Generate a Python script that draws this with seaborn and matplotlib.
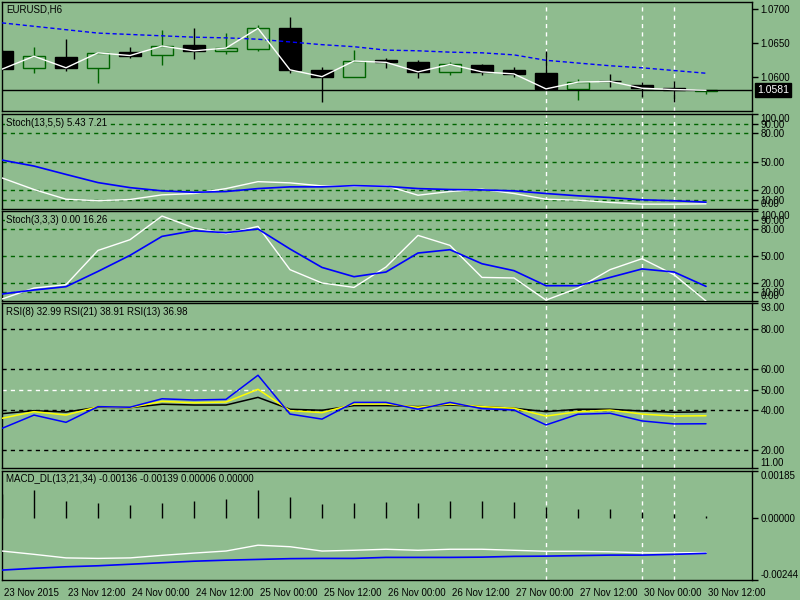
import matplotlib
matplotlib.use("Agg")
import matplotlib.pyplot as plt
import matplotlib.transforms as mtrans
import seaborn as sns

# EURUSD H6 bars, 23 Nov 2015 00:00 .. 30 Nov 12:00
bar_idx = list(range(23))
opens = [1.0639, 1.0614, 1.0630, 1.0613, 1.0637, 1.0633, 1.0648, 1.0639, 1.0641, 1.0673, 1.0611, 1.0600,
         1.0625, 1.0623, 1.0608, 1.0618, 1.0611, 1.0607, 1.0583, 1.0595, 1.0589, 1.0584, 1.0580]
highs = [1.0640, 1.0644, 1.0656, 1.0637, 1.0645, 1.0670, 1.0673, 1.0665, 1.0677, 1.0689, 1.0615, 1.0640,
         1.0629, 1.0625, 1.0623, 1.0620, 1.0615, 1.0638, 1.0598, 1.0605, 1.0593, 1.0595, 1.0582]
lows = [1.0611, 1.0607, 1.0609, 1.0592, 1.0629, 1.0618, 1.0627, 1.0634, 1.0639, 1.0606, 1.0564, 1.0600,
        1.0614, 1.0599, 1.0604, 1.0604, 1.0600, 1.0583, 1.0567, 1.0586, 1.0571, 1.0563, 1.0575]
closes = [1.0612, 1.0631, 1.0614, 1.0636, 1.0632, 1.0646, 1.0639, 1.0643, 1.0672, 1.0611, 1.0601, 1.0624,
          1.0622, 1.0608, 1.0619, 1.0608, 1.0605, 1.0583, 1.0593, 1.0594, 1.0584, 1.0582, 1.0581]
ma_slow = [1.0680, 1.0675, 1.0670, 1.0665, 1.0663, 1.0661, 1.0659, 1.0658, 1.0656, 1.0652, 1.0648, 1.0645,
           1.0640, 1.0639, 1.0637, 1.0636, 1.0633, 1.0625, 1.0621, 1.0617, 1.0614, 1.0610, 1.0606]
bid = 1.0581

st1_main = [32.7, 20.5, 10.3, 8.7, 10.0, 14.9, 16.3, 21.5, 28.8, 27.5, 24.3, 23.9, 24.6, 14.5, 18.4, 20.8,
            16.3, 10.3, 9.3, 6.9, 5.1, 5.1, 5.43]
st1_sig = [51.5, 45.2, 36.4, 27.8, 22.5, 19.1, 17.6, 18.4, 21.5, 23.3, 23.3, 24.6, 23.9, 21.5, 20.5, 20.1,
           19.1, 16.3, 13.9, 12.1, 9.7, 8.7, 7.21]
st2_main = [2.2, 14.4, 18.1, 56.2, 68.1, 94.4, 81.1, 74.8, 82.9, 34.8, 20.0, 15.1, 37.8, 72.9, 61.8, 26.2,
            25.6, 1.0, 14.4, 34.8, 47.0, 29.2, 0.0]
st2_sig = [7.8, 12.2, 15.9, 32.9, 50.7, 71.8, 78.1, 75.9, 80.0, 57.8, 37.3, 27.0, 32.2, 53.3, 57.0, 41.4,
           33.7, 17.0, 17.0, 26.2, 35.6, 32.2, 16.26]

rsi8 = [30.7, 37.3, 33.7, 41.5, 41.2, 45.4, 44.8, 45.1, 57.1, 37.8, 35.3, 43.6, 43.6, 40.2, 43.6, 40.5,
        39.8, 32.4, 37.7, 38.2, 34.4, 32.9, 32.99]
rsi13 = [35.7, 39.0, 37.3, 41.5, 41.0, 44.1, 43.4, 43.8, 50.1, 39.5, 38.5, 42.8, 42.8, 41.2, 42.8, 41.5,
         40.7, 36.8, 39.0, 39.8, 37.8, 36.8, 36.98]
rsi21 = [38.0, 39.5, 38.8, 41.2, 41.0, 42.7, 42.3, 42.3, 46.1, 40.2, 39.7, 42.0, 42.0, 41.5, 42.3, 41.5,
         40.7, 39.0, 40.2, 40.2, 39.3, 38.7, 38.91]

macd_hist = [0.00095, 0.00110, 0.00067, 0.00059, 0.00051, 0.00059, 0.00067, 0.00075, 0.00110, 0.00083,
             0.00055, 0.00059, 0.00063, 0.00059, 0.00067, 0.00067, 0.00063, 0.00043, 0.00035, 0.00037,
             0.00024, 0.00016, 0.00006]
macd_main = [-0.00130, -0.00143, -0.00157, -0.00159, -0.00157, -0.00147, -0.00138, -0.00130, -0.00107,
             -0.00113, -0.00130, -0.00127, -0.00123, -0.00127, -0.00123, -0.00123, -0.00127, -0.00131,
             -0.00131, -0.00133, -0.00137, -0.00137, -0.00136]
macd_sig = [-0.00205, -0.00198, -0.00192, -0.00188, -0.00182, -0.00176, -0.00170, -0.00166, -0.00163,
            -0.00160, -0.00159, -0.00159, -0.00155, -0.00155, -0.00155, -0.00154, -0.00151, -0.00150,
            -0.00148, -0.00146, -0.00146, -0.00143, -0.00139]

vlines_at = [17, 20, 21]
xtick_pos = [0, 2, 4, 6, 8, 10, 12, 14, 16, 18, 20, 22]
xtick_labels = ["23 Nov 2015", "23 Nov 12:00", "24 Nov 00:00", "24 Nov 12:00", "25 Nov 00:00",
                "25 Nov 12:00", "26 Nov 00:00", "26 Nov 12:00", "27 Nov 00:00", "27 Nov 12:00",
                "30 Nov 00:00", "30 Nov 12:00"]

bg = "#8fbc8f"
dgreen = "#006400"

sns.set_style("white", {"axes.facecolor": bg, "figure.facecolor": bg, "axes.edgecolor": "black"})
plt.rcParams['font.family'] = ['Liberation Sans', 'DejaVu Sans']
plt.rcParams['font.size'] = 7

fig = plt.figure(figsize=(8, 6), dpi=100, facecolor=bg)


def panel(top, bottom):
    ax = fig.add_axes([2 / 800, 1 - bottom / 600, 750 / 800, (bottom - top) / 600])
    ax.set_facecolor(bg)
    ax.set_xlim(0, 750 / 32)
    for s in ax.spines.values():
        s.set_color("black")
        s.set_linewidth(1)
    ax.yaxis.tick_right()
    ax.tick_params(axis='y', direction='out', length=4, width=1, pad=2, labelsize=7, colors='black')
    ax.set_xticks([])
    for k in vlines_at:
        ax.axvline(k, color='white', lw=1, ls=(0, (3, 3)), zorder=1)
    return ax


def set_right_ticks(ax, ticks, fmt, pin_ends=True):
    ax.set_yticks(ticks)
    ax.set_yticklabels([fmt % v for v in ticks])
    if pin_ends:
        # max label hangs below the top edge, min label sits above the bottom edge
        mt = ax.yaxis.get_major_ticks()
        mt[0].label2.set_verticalalignment('top')
        mt[-1].label2.set_verticalalignment('bottom')


def title(ax, s, y):
    fig.text(6 / 800, 1 - y / 600, s, va='center', ha='left', fontsize=7, color='black',
             bbox=dict(facecolor=bg, edgecolor='none', pad=0.6), zorder=10)


# price panel
ax1 = panel(2, 111)
ax1.set_ylim(1.05505, 1.07107)
for i in bar_idx:
    o, h, l, c = opens[i], highs[i], lows[i], closes[i]
    bull = c > o
    col = dgreen if bull else 'black'
    top, bot = max(o, c), min(o, c)
    ax1.vlines(i, top, h, color=col, lw=1, zorder=2)
    ax1.vlines(i, l, bot, color=col, lw=1, zorder=2)
    ht = max(top - bot, 0.00002)
    if bull:
        ax1.bar(i, ht, bottom=bot, width=0.66, facecolor='none', edgecolor=col, lw=1, zorder=2)
    else:
        ax1.bar(i, ht, bottom=bot, width=0.66, color='black', edgecolor='black', lw=1, zorder=2)
sns.lineplot(x=bar_idx, y=ma_slow, ax=ax1, color='blue', lw=1, ls=(0, (3, 2)), zorder=3)
sns.lineplot(x=bar_idx, y=closes, ax=ax1, color='white', lw=1, zorder=4)
ax1.axhline(bid, color='black', lw=1, zorder=3)
set_right_ticks(ax1, [1.0700, 1.0650, 1.0600], "%.4f", pin_ends=False)
fig.text(757 / 800, 1 - 90 / 600, "1.0581", color='white', fontsize=7.5, va='center', ha='left',
         bbox=dict(facecolor='black', edgecolor='black', pad=1.5), zorder=10)
title(ax1, "EURUSD,H6", 10)

# stochastic panels
stoch_ticks = [100, 90, 80, 50, 20, 10, 0]
for (t, b, main, sig, name, ty) in [(114, 209, st1_main, st1_sig, "Stoch(13,5,5) 5.43 7.21", 123),
                                   (211, 301, st2_main, st2_sig, "Stoch(3,3,3) 0.00 16.26", 220)]:
    ax = panel(t, b)
    ax.set_ylim(0, 100)
    for lv in [90, 80, 50, 20, 10]:
        ax.axhline(lv, color=dgreen, lw=1, ls=(0, (3, 3)), zorder=1)
    sns.lineplot(x=bar_idx, y=main, ax=ax, color='white', lw=1, zorder=3)
    sns.lineplot(x=bar_idx, y=sig, ax=ax, color='blue', lw=1.2, zorder=4)
    set_right_ticks(ax, stoch_ticks, "%.2f")
    title(ax, name, ty)

# RSI panel
ax4 = panel(303, 468)
ax4.set_ylim(11, 93)
for lv in [80, 60, 40, 20]:
    ax4.axhline(lv, color='black', lw=1, ls=(0, (3, 3)), zorder=1)
ax4.axhline(50, color='white', lw=1, ls=(0, (3, 3)), zorder=1)
sns.lineplot(x=bar_idx, y=rsi21, ax=ax4, color='black', lw=1.1, zorder=3)
sns.lineplot(x=bar_idx, y=rsi13, ax=ax4, color='yellow', lw=1.1, zorder=4)
sns.lineplot(x=bar_idx, y=rsi8, ax=ax4, color='blue', lw=1.1, zorder=5)
set_right_ticks(ax4, [93, 80, 60, 50, 40, 20, 11], "%.2f")
title(ax4, "RSI(8) 32.99 RSI(21) 38.91 RSI(13) 36.98", 312)

# MACD panel
ax5 = panel(471, 580)
ax5.set_ylim(-0.00244, 0.00185)
ax5.vlines(bar_idx, 0, macd_hist, color='black', lw=1, zorder=2)
sns.lineplot(x=bar_idx, y=macd_main, ax=ax5, color='white', lw=1, zorder=3)
sns.lineplot(x=bar_idx, y=macd_sig, ax=ax5, color='blue', lw=1.2, zorder=4)
set_right_ticks(ax5, [0.00185, 0.0, -0.00244], "%.5f")
ax5.set_xticks(xtick_pos)
ax5.set_xticklabels(xtick_labels)
ax5.tick_params(axis='x', direction='out', length=6, width=1, pad=0, labelsize=7, colors='black')
off = mtrans.ScaledTranslation(2 / 100, 0, fig.dpi_scale_trans)
for lab in ax5.get_xticklabels():
    lab.set_horizontalalignment('left')
    lab.set_transform(lab.get_transform() + off)
title(ax5, "MACD_DL(13,21,34) -0.00136 -0.00139 0.00006 0.00000", 479)

for ax in fig.axes:
    ax.set_xlabel("")
    ax.set_ylabel("")

fig.savefig("out.png", dpi=100, facecolor=bg)
